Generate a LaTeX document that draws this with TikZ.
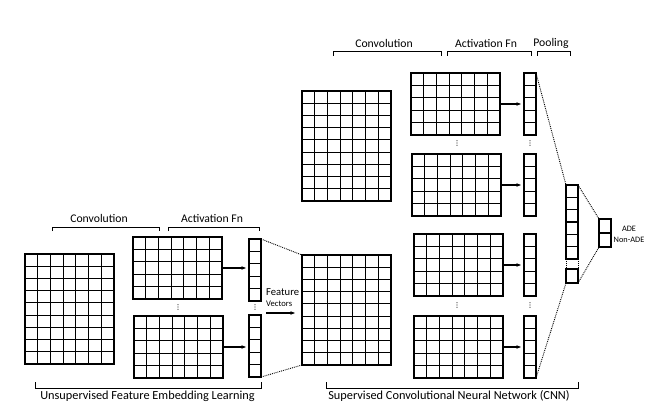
\documentclass[tikz,border=0pt]{standalone}
\usepackage{fontspec}
\setmainfont{Carlito}
\usetikzlibrary{arrows.meta,calc}
\tikzset{
  gbox/.style 2 args={draw, line width=1.2pt, inner sep=0pt, outer sep=0pt, anchor=north west,
    minimum width=#1pt, minimum height=#2pt},
  bigmat/.style={gbox={89}{110}},
  convmat/.style={gbox={89}{62}},
  vecmat/.style={gbox={12}{62}},
  poolmat/.style={gbox={12}{74}},
  onecell/.style={gbox={12}{14}},
  outmat/.style={gbox={12}{28}},
  gl/.style={line width=1.05pt},
  arr/.style={line width=1.1pt, -{Stealth[length=4.5pt,width=3.5pt]}},
  dots/.style={line width=0.9pt, densely dotted},
  brk/.style={line width=1pt},
  lab/.style={font=\fontsize{11.7}{13}\selectfont, inner sep=0pt},
  blab/.style={font=\fontsize{12.3}{14}\selectfont, inner sep=0pt},
}
% name, x, y, style, cols, rows
\newcommand\mgrid[6]{%
  \node[#4] (#1) at (#2,#3) {};
  \foreach \k in {1,...,#5}{\draw[gl] ($(#1.north west)!\k/#5!(#1.north east)$) -- ($(#1.south west)!\k/#5!(#1.south east)$);}
  \foreach \k in {1,...,#6}{\draw[gl] ($(#1.north west)!\k/#6!(#1.south west)$) -- ($(#1.north east)!\k/#6!(#1.south east)$);}
}
\newcommand\vdotsat[2]{\fill[black!80] (#1,#2-2.3) circle (0.6) (#1,#2) circle (0.6) (#1,#2+2.3) circle (0.6);}
\begin{document}
\begin{tikzpicture}[x=1pt,y=-1pt]
\useasboundingbox (0,0) rectangle (656,417);
% ---- left part
\mgrid{lbig}{25}{254}{bigmat}{7}{9}
\mgrid{lc1}{133}{237}{convmat}{7}{5}
\mgrid{lc2}{134}{316}{convmat}{7}{5}
\mgrid{lv1}{249}{239}{vecmat}{1}{5}
\mgrid{lv2}{249}{315}{vecmat}{1}{5}
\draw[arr] (lc1.east) -- ([xshift=-3pt]lc1.east -| lv1.west);
\draw[arr] (lc2.east) -- ([xshift=-3pt]lc2.east -| lv2.west);
\vdotsat{178}{307}
\vdotsat{255}{307}
% brackets left
\draw[brk] (52,231) -- (52,227) -- (159,227) -- (159,231);
\draw[brk] (168,231) -- (168,227) -- (259,227) -- (259,231);
\node[lab] (lconvl) at (99,218) {Convolution};
\node[lab] (lactl) at (212,218) {Activation Fn};
\draw[brk] (35,382) -- (35,388) -- (261,388) -- (261,382);
\node[blab] (unsup) at (147.5,396) {Unsupervised Feature Embedding Learning};
% feature vectors
\node[font=\fontsize{10.6}{12}\selectfont, inner sep=0pt, anchor=west] (feat) at (266,292) {Feature};
\node[font=\fontsize{8.6}{10}\selectfont, inner sep=0pt, anchor=west] (vecs) at (266,304) {Vectors};
\coordinate (fa) at (266,313);
\coordinate (fb) at (295,313);
\draw[arr] (fa) -- (fb);
% ---- middle
\mgrid{mbig}{302}{255}{bigmat}{7}{9}
\mgrid{ubig}{302}{91}{bigmat}{7}{9}
\draw[dots] (lv1.north east) -- (mbig.north west);
\draw[dots] (lv2.south east) -- (mbig.south west);
% ---- right convs
\mgrid{ra}{411}{73}{convmat}{7}{5}
\mgrid{rb}{412}{154}{convmat}{7}{5}
\mgrid{rc}{414}{234}{convmat}{7}{5}
\mgrid{rd}{414}{316}{convmat}{7}{5}
\mgrid{va}{524}{73}{vecmat}{1}{5}
\mgrid{vb}{524}{154}{vecmat}{1}{5}
\mgrid{vc}{524}{234}{vecmat}{1}{5}
\mgrid{vd}{524}{316}{vecmat}{1}{5}
\draw[arr] (ra.east) -- ([xshift=-3pt]ra.east -| va.west);
\draw[arr] (rb.east) -- ([xshift=-3pt]rb.east -| vb.west);
\draw[arr] (rc.east) -- ([xshift=-3pt]rc.east -| vc.west);
\draw[arr] (rd.east) -- ([xshift=-3pt]rd.east -| vd.west);
\vdotsat{457}{143}
\vdotsat{530}{143}
\vdotsat{457}{305}
\vdotsat{530}{305}
% pooling
\mgrid{pt}{566}{185}{poolmat}{1}{6}
\mgrid{pb}{566}{269}{onecell}{1}{1}
\draw[dots] (pt.south west) -- (pb.north west);
\draw[dots] (pt.south east) -- (pb.north east);
\mgrid{out}{599}{219}{outmat}{1}{2}
\draw[dots] (va.north east) -- (pt.north west);
\draw[dots] (vd.south east) -- (pb.south west);
\draw[dots] (pt.north east) -- (out.north west);
\draw[dots] (pb.south east) -- (out.south west);
\node[font=\fontsize{8.3}{9}\selectfont, inner sep=0pt] (ade) at (629,229) {ADE};
\node[font=\fontsize{8.3}{9}\selectfont, inner sep=0pt] (nade) at (629,240) {Non-ADE};
% brackets right
\draw[brk] (333,56) -- (333,52) -- (441,52) -- (441,56);
\draw[brk] (447,56) -- (447,52) -- (531,52) -- (531,56);
\draw[brk] (537,56) -- (537,52) -- (570,52) -- (570,56);
\node[lab] (rconvl) at (384,43) {Convolution};
\node[lab] (ractl) at (486,43) {Activation Fn};
\node[lab] (rpooll) at (551,43) {Pooling};
\draw[brk] (326,382) -- (326,388) -- (578,388) -- (578,382);
\node[blab] (sup) at (449,396) {Supervised Convolutional Neural Network (CNN)};
\end{tikzpicture}
\end{document}
